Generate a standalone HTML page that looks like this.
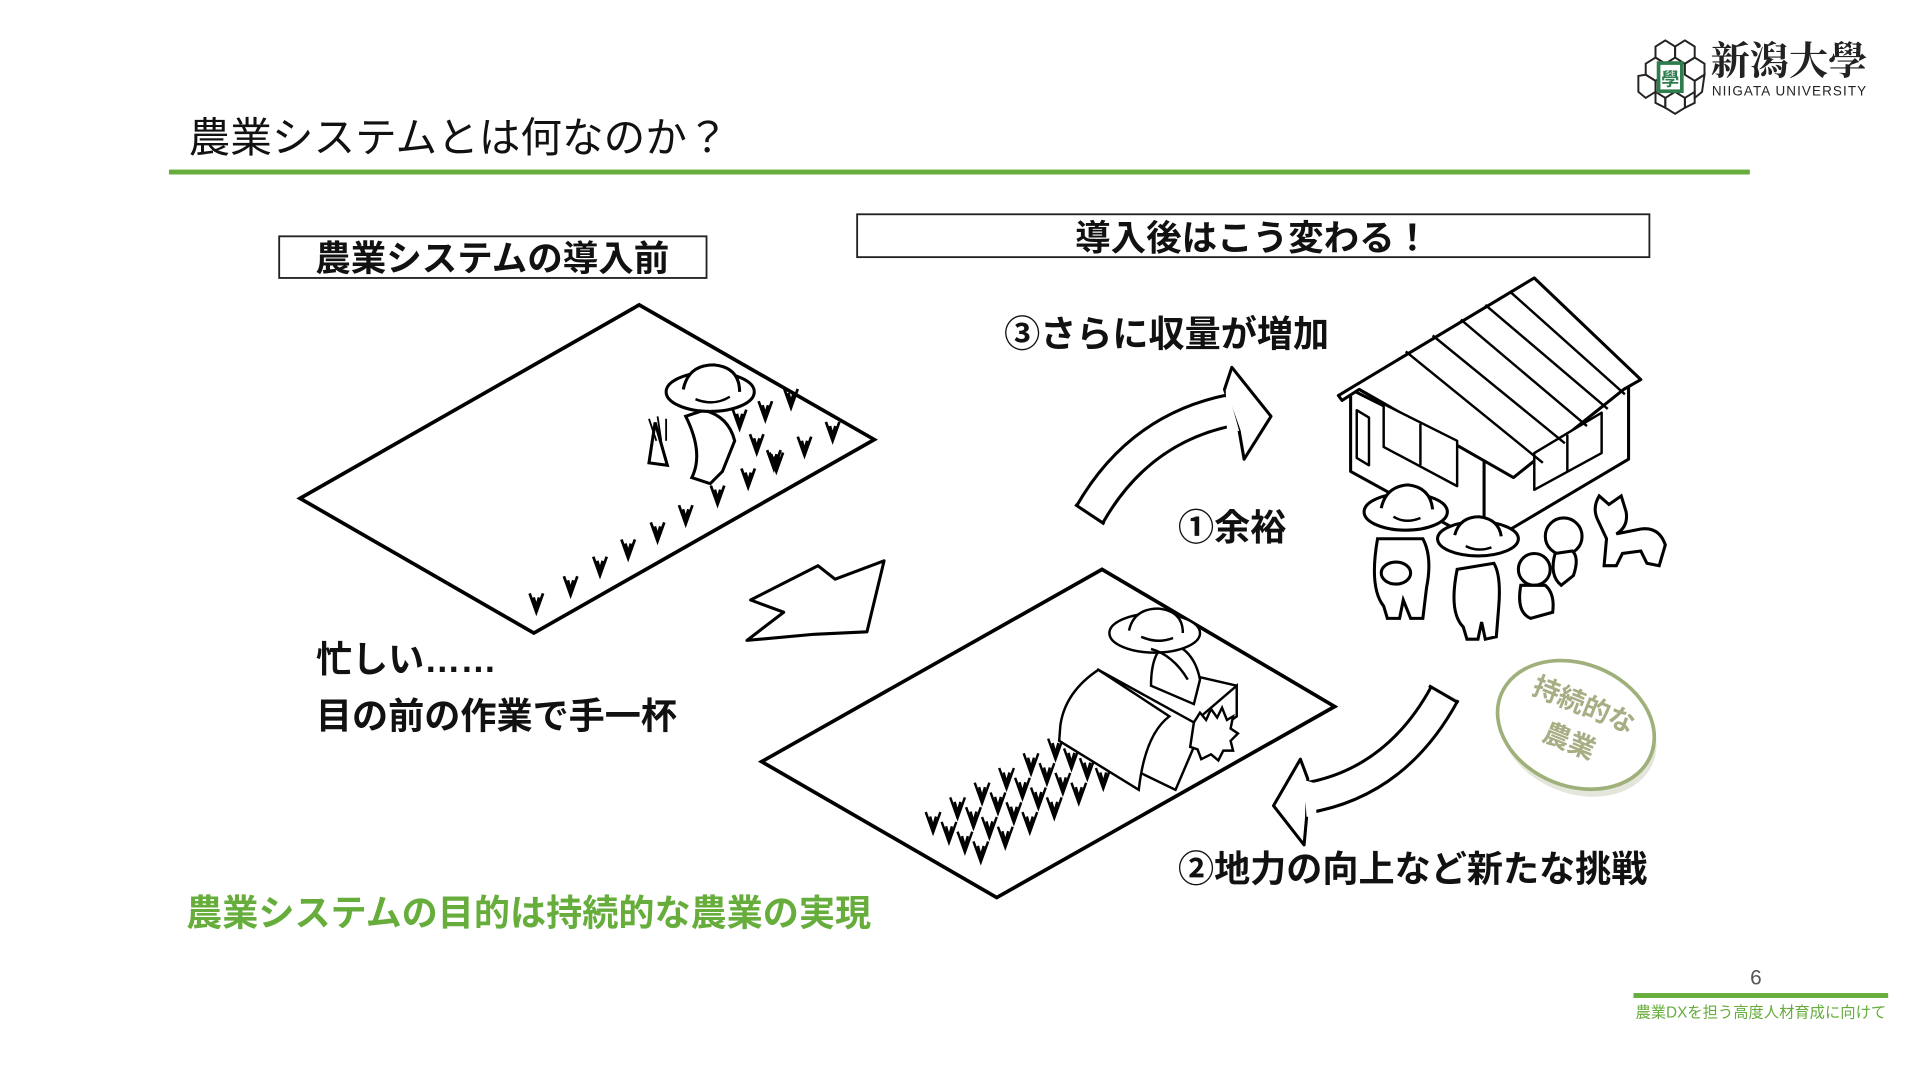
<!DOCTYPE html>
<html><head><meta charset="utf-8"><style>
html,body{margin:0;padding:0;background:#fff;width:1920px;height:1080px;overflow:hidden}
svg{display:block}
text{font-family:"Liberation Sans","Noto Sans CJK JP",sans-serif}
</style></head><body>
<svg id="s" width="1920" height="1080" viewBox="0 0 1568 882" xmlns="http://www.w3.org/2000/svg">
<!-- logo -->
<g fill="none" stroke="#222" stroke-width="1.6">
<polygon points="1352,38 1360,33 1368,38 1368,47 1360,52 1352,47"/>
<polygon points="1368,38 1376,33 1384,38 1384,47 1376,52 1368,47"/>
<polygon points="1344,52 1352,47 1360,52 1360,61 1352,66 1344,61"/>
<polygon points="1376,52 1384,47 1392,52 1392,61 1384,66 1376,61"/>
<polygon points="1338,62 1344,61 1352,66 1352,75 1344,80 1338,75"/>
<polygon points="1384,66 1392,61 1390,75 1384,80"/>
<polygon points="1352,75 1360,80 1360,88 1352,84"/>
<polygon points="1360,80 1368,75 1376,80 1376,88 1368,93 1360,88"/>
<polygon points="1376,80 1384,75 1384,84 1376,88"/>
</g>
<rect x="1353" y="50" width="22" height="26" fill="#2e7d4f"/>
<rect x="1356" y="53" width="16" height="20" fill="#fff"/>
<text x="1364" y="70" font-size="15" fill="#2e7d4f" text-anchor="middle" font-weight="bold">學</text>
<text x="1397" y="61" font-size="32" fill="#222" font-weight="bold" style="font-family:'Noto Serif CJK SC',serif">新潟大學</text>
<text x="1398" y="78" font-size="11" fill="#222" letter-spacing="0.9">NIIGATA UNIVERSITY</text>

<!-- title -->
<text x="154" y="124" font-size="34" fill="#111">農業システムとは何なのか？</text>
<rect x="138" y="138.5" width="1291" height="4" fill="#66ad3c"/>

<!-- boxes -->
<rect x="228" y="193" width="349" height="34" fill="#fff" stroke="#222" stroke-width="1.5"/>
<text x="402" y="221" font-size="29" font-weight="bold" text-anchor="middle" fill="#111">農業システムの導入前</text>
<rect x="700" y="175" width="647" height="35" fill="#fff" stroke="#222" stroke-width="1.5"/>
<text x="1023" y="204" font-size="29" font-weight="bold" text-anchor="middle" fill="#111">導入後はこう変わる！</text>

<!-- field 1 -->
<polygon points="245,407 522,249 714,359 436,517" fill="#fff" stroke="#000" stroke-width="3"/>
<g id="p1" fill="none" stroke="#000" stroke-width="2.2"></g>
<!-- farmer 1 -->
<g fill="#fff" stroke="#000" stroke-width="2.5">
<path d="M560,340 Q575,370 565,390 L580,395 L590,385 L600,360 Q595,340 575,335Z"/>
<ellipse cx="580" cy="320" rx="36" ry="16"/>
<path d="M558,318 Q562,298 583,298 Q604,300 604,320"/>
<path d="M535,345 L545,380 L530,378 Z"/>
</g>
<path d="M568,326 Q583,332 596,324" fill="none" stroke="#000" stroke-width="2"/>
<g stroke="#000" stroke-width="1.5"><line x1="530" y1="342" x2="536" y2="360"/><line x1="537" y1="340" x2="540" y2="360"/><line x1="544" y1="342" x2="544" y2="360"/></g>

<!-- arrow down -->
<polygon points="610,523 640,500 613,490 668,462 682,473 722,458 708,516 665,518" fill="#fff" stroke="#000" stroke-width="2.5" stroke-linejoin="round"/>

<!-- field 2 -->
<polygon points="622,622 900,465 1090,577 814,733" fill="#fff" stroke="#000" stroke-width="3"/>
<g id="p2" fill="none" stroke="#000" stroke-width="2"></g>
<!-- harvester -->
<g fill="#fff" stroke="#000" stroke-width="2">
<path d="M897,547 L975,590 L1010,560 L1010,585 L975,610 L960,645 L900,616 Q890,585 897,547Z"/>
<path d="M866,592 Q870,565 897,547 L955,585 Q935,600 930,645 L865,605 Z"/>
<path d="M945,545 L1010,560" fill="none"/>
<path d="M940,560 Q940,530 955,525 Q975,530 980,555 L975,575 Z"/>
<ellipse cx="943" cy="517" rx="37" ry="16"/>
<path d="M922,515 Q926,497 946,497 Q966,499 966,517"/>
<path d="M975,590 l5,-8 5,6 4,-9 5,7 4,-8 4,10 5,-3 -2,10 6,4 -6,6 2,8 -8,0 -4,8 -6,-5 -8,4 -3,-8 -6,-2 z"/>
<path d="M940,530 Q958,535 970,555" fill="none"/>
</g>
<path d="M932,520 Q945,526 958,521" fill="none" stroke="#000" stroke-width="2"/>

<!-- curved arrow up -->
<path d="M890,420 Q930,350 1005,335" fill="none" stroke="#000" stroke-width="28"/>
<path d="M890,420 Q930,350 1005,335" fill="none" stroke="#fff" stroke-width="23"/>
<line x1="878" y1="412" x2="902" y2="428" stroke="#000" stroke-width="2.5"/>
<polygon points="1000,318 1006,300 1038,340 1016,375 1012,352" fill="#fff" stroke="#000" stroke-width="2.5" stroke-linejoin="round"/>
<polygon points="1003,320 1012,352 1002,351 1001,318" fill="#fff"/>

<!-- curved arrow down -->
<path d="M1180,566 Q1140,640 1065,652" fill="none" stroke="#000" stroke-width="27"/>
<path d="M1180,566 Q1140,640 1065,652" fill="none" stroke="#fff" stroke-width="22"/>
<line x1="1167" y1="560" x2="1191" y2="574" stroke="#000" stroke-width="2.5"/>
<polygon points="1068,636 1062,620 1040,658 1065,690 1067,668" fill="#fff" stroke="#000" stroke-width="2.5" stroke-linejoin="round"/>
<polygon points="1065,637 1067,667 1075,667 1075,640" fill="#fff"/>

<!-- house -->
<g fill="#fff" stroke="#000" stroke-width="2.5" stroke-linejoin="round">
<polygon points="1103,318 1212,372 1330,305 1330,375 1212,445 1103,385"/>
<line x1="1212" y1="372" x2="1212" y2="445"/>
<polygon points="1093,323 1253,227 1340,310 1326,318 1236,390 1110,318 1096,327"/>
<polygon points="1130,330 1190,360 1190,397 1130,365" stroke-width="2"/>
<polygon points="1253,370 1308,337 1308,370 1253,400" stroke-width="2"/>
<polygon points="1108,335 1118,341 1118,380 1108,374" stroke-width="2"/>
</g>
<g stroke="#000" stroke-width="2"><line x1="1160" y1="346" x2="1160" y2="380"/><line x1="1280" y1="355" x2="1280" y2="385"/>
<line x1="1148" y1="287" x2="1260" y2="378"/><line x1="1170" y1="274" x2="1278" y2="362"/><line x1="1193" y1="261" x2="1296" y2="348"/><line x1="1213" y1="249" x2="1313" y2="334"/><line x1="1233" y1="238" x2="1327" y2="322"/></g>
<!-- people -->
<g fill="#fff" stroke="#000" stroke-width="2.5">
<path d="M1125,440 Q1118,480 1130,495 L1133,505 L1143,505 L1146,490 L1152,505 L1162,505 L1165,480 Q1170,455 1162,440 Z"/>
<ellipse cx="1148" cy="418" rx="34" ry="15"/>
<path d="M1128,415 Q1132,397 1150,396 Q1168,398 1170,416"/>
<ellipse cx="1140" cy="468" rx="12" ry="9"/>
<path d="M1190,465 Q1183,500 1195,512 L1198,522 L1207,522 L1210,508 L1213,522 L1222,520 L1224,495 Q1226,470 1220,460 Z"/>
<ellipse cx="1207" cy="440" rx="33" ry="14"/>
<path d="M1188,437 Q1192,422 1208,422 Q1224,424 1226,438"/>
<circle cx="1253" cy="465" r="13"/>
<path d="M1242,478 Q1238,500 1250,505 L1268,500 Q1270,485 1262,478 Z"/>
<circle cx="1277" cy="438" r="15"/>
<path d="M1270,452 Q1265,470 1275,478 L1285,470 Q1290,455 1284,450Z"/>
<path d="M1305,425 Q1300,415 1306,405 L1314,412 L1324,405 L1328,418 Q1330,430 1320,436 L1340,432 Q1355,430 1360,445 L1355,462 L1345,460 L1340,450 L1325,452 L1320,462 L1310,462 L1312,440 Z"/>
</g>
<path d="M1138,422 Q1148,428 1160,423 M1197,446 Q1207,451 1218,447" fill="none" stroke="#000" stroke-width="2"/>

<!-- stamp -->
<g transform="rotate(22 1287 592)">
<ellipse cx="1291" cy="597" rx="66" ry="50" fill="#d8dccc" opacity="0.7"/>
<ellipse cx="1287" cy="592" rx="66" ry="50" fill="#fff" stroke="#9fb07a" stroke-width="3"/>
<text x="1287" y="582" font-size="22" fill="#a8ad84" text-anchor="middle" font-weight="bold">持続的な</text>
<text x="1287" y="614" font-size="22" fill="#a8ad84" text-anchor="middle" font-weight="bold">農業</text>
</g>

<!-- labels -->
<text x="820" y="283" font-size="29.5" font-weight="bold" fill="#111">③さらに収量が増加</text>
<text x="962" y="441" font-size="29.5" font-weight="bold" fill="#111">①余裕</text>
<text x="962" y="720" font-size="29.5" font-weight="bold" fill="#111">②地力の向上など新たな挑戦</text>
<text x="258" y="549" font-size="29.5" font-weight="bold" fill="#111">忙しい……</text>
<text x="258" y="595" font-size="29.5" font-weight="bold" fill="#111">目の前の作業で手一杯</text>
<text x="152" y="756" font-size="29.5" font-weight="bold" fill="#66ad3c">農業システムの目的は持続的な農業の実現</text>

<!-- footer -->
<text x="1434" y="804" font-size="17" fill="#555" text-anchor="middle">6</text>
<rect x="1334" y="811" width="208" height="4" fill="#66ad3c"/>
<text x="1438" y="831" font-size="12.5" fill="#66ad3c" text-anchor="middle">農業DXを担う高度人材育成に向けて</text>
</svg>
<script>
function V(g,x,y,s){var p=document.createElementNS("http://www.w3.org/2000/svg","path");
p.setAttribute("d","M"+(x-5*s)+","+(y-14*s)+" L"+x+","+y+" L"+(x+5*s)+","+(y-14*s)+" M"+(x-2*s)+","+(y-11*s)+" L"+x+","+(y-4*s)+" L"+(x+2*s)+","+(y-11*s));
document.getElementById(g).appendChild(p);}
var pts1=[[438,500],[466,486],[490,470],[513,456],[537,442],[560,428],[586,412],[611,398],[634,385],[657,372],[680,360],[604,350],[625,343],[646,333],[618,370],[586,385],[632,383]];
pts1.forEach(function(p){V("p1",p[0],p[1],1.1)});
var pts2=[];
for(var r=0;r<4;r++){for(var c=0;c<7;c++){pts2.push([762+c*20+r*13,680-c*12+r*8]);}}
pts2.forEach(function(p){V("p2",p[0],p[1],1.2)});
</script>
</body></html>
